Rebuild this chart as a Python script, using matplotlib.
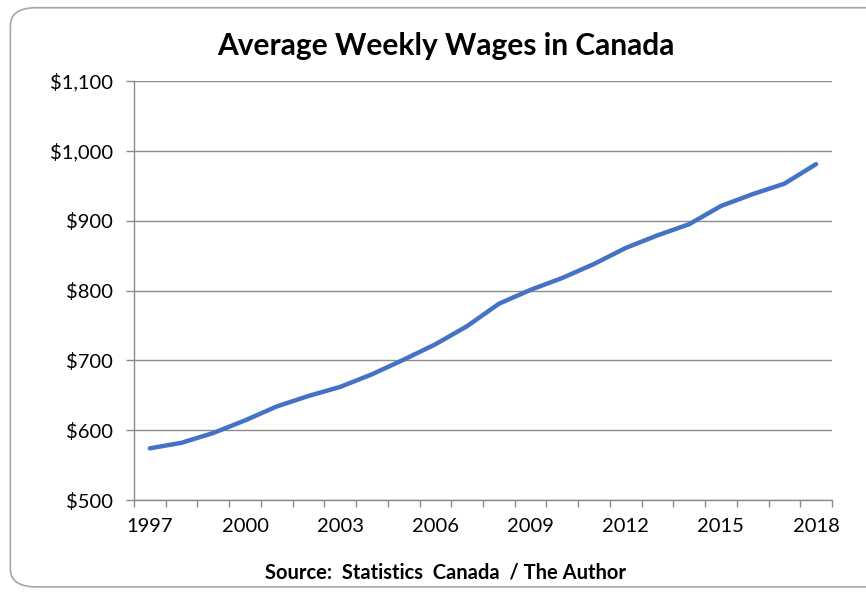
import matplotlib.pyplot as plt
from matplotlib.patches import FancyBboxPatch
from matplotlib.ticker import FuncFormatter

years = list(range(1997, 2019))
wages = [574, 582, 596, 614, 634, 649, 662, 680, 701, 723, 749, 781,
         801, 818, 838, 861, 879, 895, 921, 938, 953, 981]
label_years = [1997, 2000, 2003, 2006, 2009, 2012, 2015, 2018]

plt.rcParams['font.family'] = ['Lato', 'DejaVu Sans']

fig = plt.figure(figsize=(8.66, 5.94), dpi=100)
ax = fig.add_axes([0.1547, 0.1582, 0.806, 0.7054])

# rounded chart border like the spreadsheet frame
frame = FancyBboxPatch((0.012, 0.012), 1.05, 0.975, boxstyle='round,pad=0,rounding_size=0.03',
                       transform=fig.transFigure, fc='none', ec='#a6a6a6', lw=1.2, zorder=0)
fig.patches.append(frame)

x = list(range(len(years)))
ax.plot(x, wages, color='#4472c4', lw=3.2, solid_capstyle='round', solid_joinstyle='round', zorder=3)

ax.set_xlim(-0.5, len(years) - 0.5)
ax.set_ylim(500, 1100)
ax.set_yticks(range(500, 1101, 100))
ax.yaxis.set_major_formatter(FuncFormatter(lambda v, p: f'${v:,.0f}'))
ax.grid(axis='y', color='#8c8c8c', lw=1)
ax.set_axisbelow(True)

# category axis: ticks between categories, labels every third year
ax.set_xticks([i - 0.5 for i in range(len(years) + 1)])
ax.set_xticklabels([])
ax.set_xticks([years.index(y) for y in label_years], minor=True)
ax.set_xticklabels([str(y) for y in label_years], minor=True)
ax.tick_params(axis='x', which='major', length=5, color='#8c8c8c', width=1)
ax.tick_params(axis='x', which='minor', length=0, pad=13, labelsize=14.5)
ax.tick_params(axis='y', length=6, color='#8c8c8c', width=1, labelsize=14.5, pad=9)

for s in ['top', 'right']:
    ax.spines[s].set_visible(False)
for s in ['left', 'bottom']:
    ax.spines[s].set_color('#8c8c8c')
    ax.spines[s].set_linewidth(1)

fig.text(0.515, 0.923, 'Average Weekly Wages in Canada', ha='center', va='center',
         fontsize=21.5, fontweight='bold')
fig.text(0.515, 0.037, 'Source:  Statistics  Canada  / The Author', ha='center', va='center',
         fontsize=14.5, fontweight='bold')

plt.savefig('out.png', dpi=100)
plt.close(fig)
